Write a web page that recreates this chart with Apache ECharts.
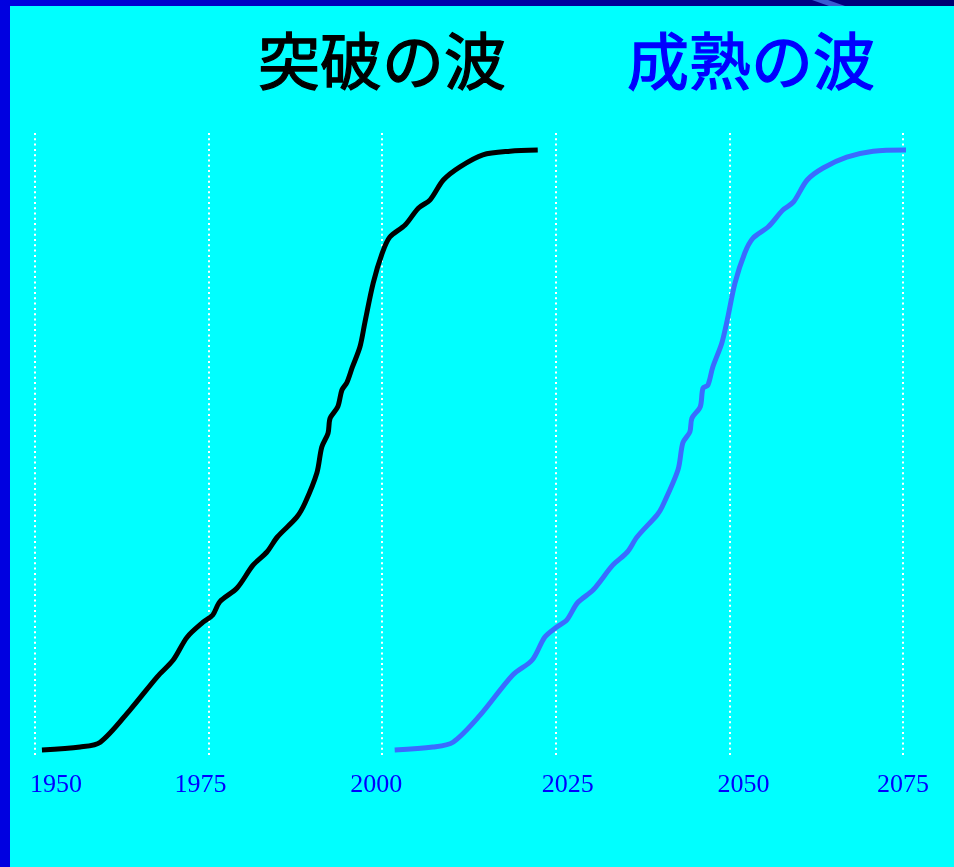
<!DOCTYPE html>
<html>
<head>
<meta charset="utf-8">
<script src="https://cdn.jsdelivr.net/npm/echarts@6/dist/echarts.min.js"></script>
<style>
  html, body { margin: 0; padding: 0; background: #00ffff; }
  #chart { width: 954px; height: 867px; }
</style>
</head>
<body>
<div id="chart"></div>
<script>
// ---- data ----
const titles = ['突破の波', '成熟の波'];
const tickYears = [1950, 1975, 2000, 2025, 2050, 2075];

// Wave 1: breakthrough (year, adoption %)
const wave1Years = [1951.0, 1956.5, 1959.4, 1963.7, 1967.6, 1969.9, 1971.9, 1974.2, 1975.6, 1976.6,
  1979.1, 1981.4, 1983.4, 1984.9, 1987.7, 1988.9, 1990.6, 1991.3, 1992.2, 1992.5,
  1993.6, 1994.2, 1994.9, 1995.7, 1996.8, 1997.5, 1998.7, 2000.0, 2001.1, 2003.3,
  2005.2, 2006.9, 2008.8, 2011.2, 2014.5, 2018.4, 2022.4];
const wave1Values = [0, 0.5, 1.3, 6.7, 12.2, 15.0, 18.8, 21.3, 22.5, 24.7,
  27.0, 30.8, 33.0, 35.5, 38.8, 41.2, 46.2, 50.5, 52.8, 55.3,
  57.2, 60.0, 61.2, 63.8, 67.2, 71.2, 77.8, 82.8, 85.5, 87.5,
  90.3, 91.7, 95.0, 97.2, 99.2, 99.8, 100];

// Wave 2: maturity (year, adoption %)
const wave2Years = [2001.8, 2007.3, 2010.2, 2014.1, 2018.8, 2021.6, 2023.4, 2024.9, 2026.6, 2028.1,
  2030.4, 2033.2, 2035.3, 2036.7, 2039.6, 2040.3, 2042.6, 2043.3, 2044.3, 2044.6,
  2045.8, 2046.2, 2046.9, 2047.6, 2048.9, 2049.7, 2050.8, 2052.2, 2053.4, 2055.6,
  2057.7, 2059.2, 2061.2, 2063.5, 2066.9, 2070.7, 2075.6];
const wave2Values = [0, 0.5, 1.3, 5.8, 12.5, 15.0, 18.8, 20.3, 21.7, 24.5,
  26.7, 30.8, 33.0, 35.5, 39.2, 40.5, 46.7, 51.2, 53.0, 55.3,
  57.2, 60.3, 60.8, 63.8, 67.8, 71.7, 77.8, 82.8, 85.3, 87.2,
  90.0, 91.3, 95.0, 97.0, 98.8, 99.8, 100];

// ---- style ----
const labelShift = { 1950: 21, 1975: -8, 2000: -6, 2025: 12, 2050: 14, 2075: 0 };

const zip = (xs, ys) => xs.map((x, i) => [x, ys[i]]);

const rich = {};
tickYears.forEach(y => {
  const d = labelShift[y] || 0;
  rich['y' + y] = {
    fontFamily: 'Liberation Serif',
    fontSize: 26,
    color: '#0000ff',
    padding: d >= 0 ? [0, 0, 0, 2 * d] : [0, -2 * d, 0, 0]
  };
});

const chart = echarts.init(document.getElementById('chart'));
chart.setOption({
  backgroundColor: '#00ffff',
  animation: false,
  grid: { left: 35, width: 868, top: 133, bottom: 112, containLabel: false },
  xAxis: {
    type: 'value',
    min: 1950, max: 2075, interval: 25,
    axisLine: { show: false },
    axisTick: { show: false },
    axisLabel: {
      margin: 17,
      formatter: v => '{y' + v + '|' + v + '}',
      rich: rich
    },
    splitLine: {
      show: true,
      lineStyle: { color: '#ffffff', width: 2, type: [2, 3.3] }
    }
  },
  yAxis: {
    type: 'value',
    min: -0.833, max: 102.833,
    show: false,
    splitLine: { show: false }
  },
  graphic: [
    { type: 'rect', shape: { x: 0, y: 0, width: 10, height: 867 }, style: { fill: '#0000e0' }, z: 100 },
    { type: 'rect', shape: { x: 0, y: 0, width: 954, height: 6 },
      style: { fill: new echarts.graphic.LinearGradient(0, 0, 1, 0, [
        { offset: 0, color: '#0000e0' }, { offset: 1, color: '#000070' }]) }, z: 100 },
    { type: 'polygon', shape: { points: [[812, 0], [828, 0], [845, 6], [829, 6]] },
      style: { fill: '#3a5ad0' }, z: 101 },
    { type: 'text', x: 382, y: 61, z: 50,
      style: { text: titles[0], fill: '#000000', stroke: '#000000', lineWidth: 1.3,
               font: '62px "Noto Sans CJK JP"',
               textAlign: 'center', textVerticalAlign: 'middle' } },
    { type: 'text', x: 751, y: 61, z: 50,
      style: { text: titles[1], fill: '#0000ff', stroke: '#0000ff', lineWidth: 1.3,
               font: '62px "Noto Sans CJK JP"',
               textAlign: 'center', textVerticalAlign: 'middle' } }
  ],
  series: [
    {
      type: 'line', data: zip(wave1Years, wave1Values),
      showSymbol: false, smooth: 0.3, clip: false,
      lineStyle: { color: '#000000', width: 5 }
    },
    {
      type: 'line', data: zip(wave2Years, wave2Values),
      showSymbol: false, smooth: 0.3, clip: false,
      lineStyle: { color: '#3b6bff', width: 5 }
    }
  ]
});
</script>
</body>
</html>
